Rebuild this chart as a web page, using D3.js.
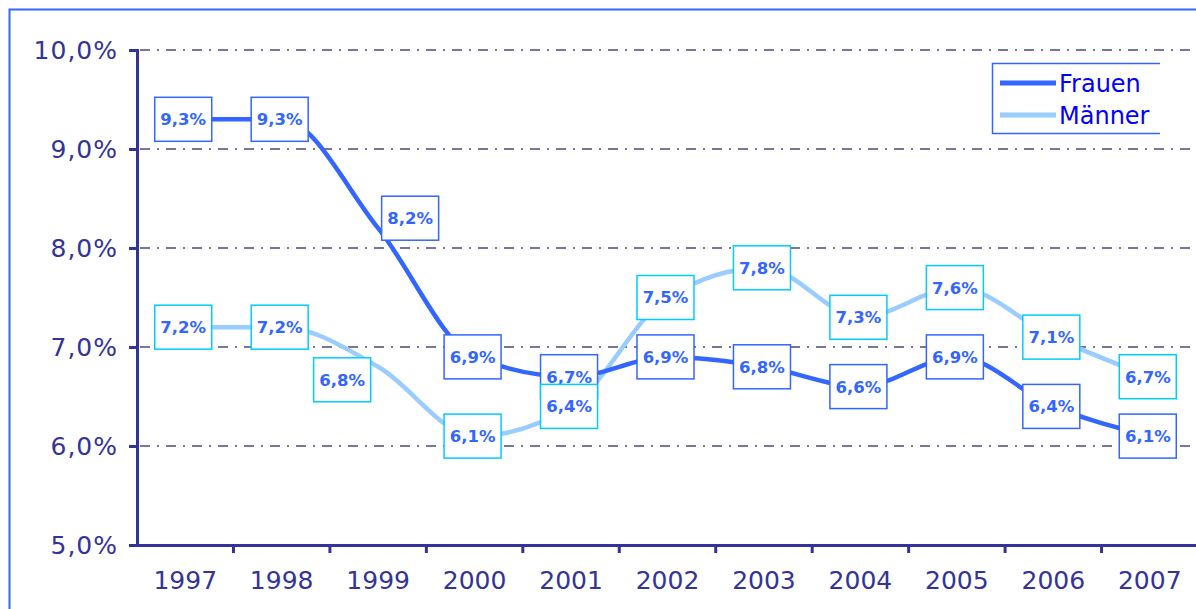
<!DOCTYPE html>
<html>
<head>
<meta charset="utf-8">
<script src="https://cdn.jsdelivr.net/npm/d3@7"></script>
<style>
    html, body { margin: 0; padding: 0; background: #fff; }
    svg { display: block; font-family: "DejaVu Sans", Verdana, sans-serif; }
</style>
</head>
<body>
<div id="chart"></div>
<script>

// Data
let years = ["1997", "1998", "1999", "2000", "2001", "2002", "2003", "2004", "2005", "2006", "2007"];
let frauen = [9.3, 9.3, 8.2, 6.9, 6.7, 6.9, 6.8, 6.6, 6.9, 6.4, 6.1];
let maenner = [7.2, 7.2, 6.8, 6.1, 6.4, 7.5, 7.8, 7.3, 7.6, 7.1, 6.7];
let yTicks = [5, 6, 7, 8, 9, 10];
let seriesNames = ["Frauen", "Männer"];

// label nudges (px) where the labels were moved off the point
let labelNudge = {
    "Frauen": {"1999": [34, -10]},
    "Männer": {"1999": [-34, 13]}
};

let width = 1196, height = 609;
let navy = "#333399";
let colors = {"Frauen": "#3366ff", "Männer": "#99ccff"};
let boxColors = {"Frauen": "#3366ff", "Männer": "#00ccff"};

let de = d3.formatLocale({decimal: ",", thousands: ".", grouping: [3], currency: ["", "€"]});
let pct = d => de.format(".1f")(d) + "%";

let svg = d3.select("#chart").append("svg")
    .attr("width", width)
    .attr("height", height);

// outer frame
svg.append("rect")
    .attr("x", 9.5).attr("y", 9.5)
    .attr("width", 1220).attr("height", 640)
    .attr("fill", "none")
    .attr("stroke", "#3366ff")
    .attr("stroke-width", 2);

// Scales
let x = d3.scaleBand()
    .domain(years)
    .range([137, 1198])
    .padding(0);

let y = d3.scaleLinear()
    .domain([5, 10])
    .range([545, 50]);

let cx = d => x(d) + x.bandwidth() / 2;

// Gridlines
svg.selectAll(".grid")
    .data(yTicks.filter(d => d > 5))
    .enter().append("line")
    .attr("class", "grid")
    .attr("x1", 140)
    .attr("x2", width)
    .attr("y1", d => y(d))
    .attr("y2", d => y(d))
    .attr("stroke", "#777799")
    .attr("stroke-width", 2)
    .attr("stroke-dasharray", "10,7,2,7");

// Y axis
let yAxis = svg.append("g")
    .attr("transform", "translate(137,0)")
    .call(d3.axisLeft(y).tickValues(yTicks).tickSize(8).tickPadding(11).tickFormat(pct));

yAxis.select(".domain").attr("stroke", navy).attr("stroke-width", 3);
yAxis.selectAll(".tick line").attr("stroke", navy).attr("stroke-width", 3);
yAxis.selectAll(".tick text")
    .attr("fill", navy)
    .attr("font-size", 25)
    .attr("letter-spacing", 1)
    .attr("font-family", "DejaVu Sans");

// X axis
let xAxis = svg.append("g")
    .attr("transform", "translate(0,545)")
    .call(d3.axisBottom(x).tickSize(0).tickPadding(26));

xAxis.select(".domain").attr("stroke", navy).attr("stroke-width", 3);
xAxis.selectAll(".tick text")
    .attr("fill", navy)
    .attr("font-size", 25)
    .attr("font-family", "DejaVu Sans");

// tick marks between categories
xAxis.selectAll(".xtick")
    .data(years)
    .enter().append("line")
    .attr("class", "xtick")
    .attr("x1", d => x(d) + x.bandwidth())
    .attr("x2", d => x(d) + x.bandwidth())
    .attr("y1", 0)
    .attr("y2", 8)
    .attr("stroke", navy)
    .attr("stroke-width", 3);

// Lines
let series = [
    {name: "Frauen", values: frauen},
    {name: "Männer", values: maenner}
];

let line = d3.line()
    .x((d, i) => cx(years[i]))
    .y(d => y(d))
    .curve(d3.curveMonotoneX);

svg.selectAll(".series")
    .data(series.slice().reverse())
    .enter().append("path")
    .attr("class", "series")
    .attr("d", d => line(d.values))
    .attr("fill", "none")
    .attr("stroke", d => colors[d.name])
    .attr("stroke-width", 4.5)
    .attr("stroke-linejoin", "round");

// Data labels
let boxW = 57, boxH = 44;

series.forEach(s => {
    let labels = svg.selectAll(".label-" + s.name)
        .data(s.values.map((v, i) => ({year: years[i], value: v})))
        .enter().append("g")
        .attr("class", "label-" + s.name)
        .attr("transform", d => {
            let n = (labelNudge[s.name] || {})[d.year] || [0, 0];
            return "translate(" + (cx(d.year) - 2 + n[0]) + "," + (y(d.value) + n[1]) + ")";
        });

    labels.append("rect")
        .attr("x", -boxW / 2)
        .attr("y", -boxH / 2)
        .attr("width", boxW)
        .attr("height", boxH)
        .attr("fill", "white")
        .attr("stroke", boxColors[s.name])
        .attr("stroke-width", 1.5);

    labels.append("text")
        .attr("text-anchor", "middle")
        .attr("dy", "0.36em")
        .attr("fill", "#3366ff")
        .attr("font-size", 16.5)
        .attr("font-weight", "bold")
        .attr("font-family", "DejaVu Sans")
        .text(d => pct(d.value));
});

// Legend
let legend = svg.append("g");

legend.append("path")
    .attr("d", "M1160,63.5 H992.5 V133.5 H1160")
    .attr("fill", "none")
    .attr("stroke", "#3366ff")
    .attr("stroke-width", 1.5);

let legendItem = legend.selectAll(".legend-item")
    .data(seriesNames)
    .enter().append("g")
    .attr("class", "legend-item")
    .attr("transform", (d, i) => "translate(0," + (83 + i * 32) + ")");

legendItem.append("line")
    .attr("x1", 1000)
    .attr("x2", 1056)
    .attr("stroke", d => colors[d])
    .attr("stroke-width", 5);

legendItem.append("text")
    .attr("x", 1059)
    .attr("dy", "0.36em")
    .attr("fill", "#0000ff")
    .attr("font-size", 24)
    .attr("font-family", "DejaVu Sans")
    .text(d => d);

</script>
</body>
</html>
